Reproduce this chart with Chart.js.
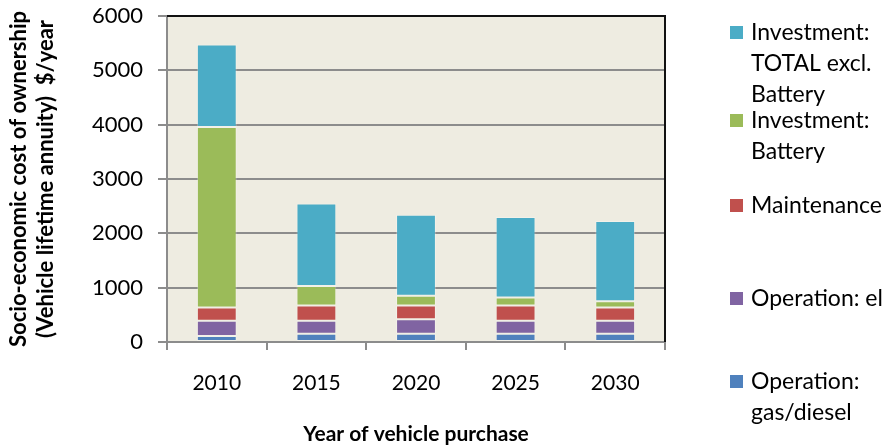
<!DOCTYPE html>
<html>
<head>
<meta charset="utf-8">
<script src="https://cdn.jsdelivr.net/npm/chart.js@4/dist/chart.umd.min.js"></script>
<style>
  html, body { margin:0; padding:0; background:#fff; }
  canvas { display:block; }
</style>
</head>
<body>
<canvas id="costChart" width="889" height="445"></canvas>
<script>
// Data ($/year per vehicle purchase year)
const years       = ['2010','2015','2020','2025','2030'];
const gasDiesel   = [110, 150, 150, 150, 150];
const opEl        = [280, 240, 270, 240, 240];
const maintenance = [245, 280, 250, 280, 245];
const battery     = [3320, 360, 180, 150, 115];
const investExcl  = [1520, 1520, 1490, 1480, 1475];
const yTicks      = [0, 1000, 2000, 3000, 4000, 5000, 6000];

const FONT = 'Lato, "Liberation Sans", sans-serif';

function wrapText(ctx, text, maxW) {
  const words = text.split(' ');
  const lines = [];
  let cur = '';
  words.forEach(w => {
    const test = cur ? cur + ' ' + w : w;
    if (cur && ctx.measureText(test).width > maxW) { lines.push(cur); cur = w; }
    else cur = test;
  });
  if (cur) lines.push(cur);
  return lines;
}

// tan plot background + dark top/right frame like the Excel original
const plotFrame = {
  id: 'plotFrame',
  beforeDraw(chart) {
    const {ctx, chartArea:a} = chart;
    ctx.save();
    ctx.fillStyle = '#EEECE1';
    ctx.fillRect(a.left, a.top, a.right - a.left, a.bottom - a.top);
    ctx.restore();
  },
  afterDraw(chart) {
    const {ctx, chartArea:a} = chart;
    ctx.save();
    ctx.strokeStyle = '#111';
    ctx.lineWidth = 2;
    ctx.beginPath();
    ctx.moveTo(a.left, a.top);
    ctx.lineTo(a.right, a.top);
    ctx.lineTo(a.right, a.bottom);
    ctx.stroke();
    ctx.restore();
  }
};

// legend on the right, top of stack first, spaced like the original
const sideLegend = {
  id: 'sideLegend',
  afterDraw(chart) {
    const ctx = chart.ctx;
    const rows = [32, 120, 205, 298, 381];
    const sets = chart.data.datasets.slice().reverse();
    ctx.save();
    ctx.font = '23px ' + FONT;
    ctx.textBaseline = 'middle';
    ctx.textAlign = 'left';
    sets.forEach((ds, i) => {
      const y = rows[i];
      ctx.fillStyle = ds.backgroundColor;
      ctx.fillRect(730, y - 6, 13, 13);
      ctx.fillStyle = '#000';
      wrapText(ctx, ds.label, 150).forEach((line, j) => ctx.fillText(line, 751, y + 1 + j * 31));
    });
    ctx.restore();
  }
};

const edge = 'rgba(255,255,255,0.28)';
const mk = (label, data, color) => ({
  label, data, backgroundColor: color, borderColor: edge, borderWidth: 1, borderSkipped: false,
  barPercentage: 0.4, categoryPercentage: 1
});

new Chart(document.getElementById('costChart'), {
  type: 'bar',
  data: {
    labels: years,
    datasets: [
      mk('Operation: gas/diesel', gasDiesel, '#4F81BD'),
      mk('Operation: el', opEl, '#8064A2'),
      mk('Maintenance', maintenance, '#C0504D'),
      mk('Investment: Battery', battery, '#9BBB59'),
      mk('Investment: TOTAL excl. Battery', investExcl, '#4BACC6')
    ]
  },
  options: {
    responsive: false,
    animation: false,
    devicePixelRatio: 1,
    layout: { padding: { left: 0, right: 224, top: 16, bottom: 0 } },
    plugins: { legend: { display: false }, tooltip: { enabled: false } },
    scales: {
      x: {
        stacked: true,
        offset: true,
        grid: { offset: true, drawOnChartArea: false, drawTicks: true, tickLength: 8, color: '#8c8c8c', lineWidth: 2 },
        border: { color: '#8c8c8c', width: 2 },
        ticks: { color: '#000', padding: 21, font: { family: FONT, size: 21 } },
        title: {
          display: true, text: 'Year of vehicle purchase', color: '#000',
          font: { family: FONT, size: 21, weight: 'bold', lineHeight: 1 }, padding: { top: 0, bottom: 0 }
        },
        afterFit(s) { s.height = 103; }
      },
      y: {
        stacked: true,
        min: 0, max: 6000,
        afterBuildTicks(s) { s.ticks = yTicks.map(v => ({ value: v })); },
        grid: { color: '#8c8c8c', lineWidth: 2, tickLength: 9 },
        border: { color: '#8c8c8c', width: 2 },
        ticks: { color: '#000', padding: 15, font: { family: FONT, size: 22 }, callback: v => String(v) },
        title: {
          display: true,
          text: ['Socio-economic cost of ownership', '(Vehicle lifetime annuity)  $/year'],
          color: '#000',
          font: { family: FONT, size: 22, weight: 'bold', lineHeight: '27px' },
          padding: { top: 5, bottom: 0 }
        },
        afterFit(s) { s.width = 167; s.paddingTop = 0; }
      }
    }
  },
  plugins: [plotFrame, sideLegend]
});
</script>
</body>
</html>
